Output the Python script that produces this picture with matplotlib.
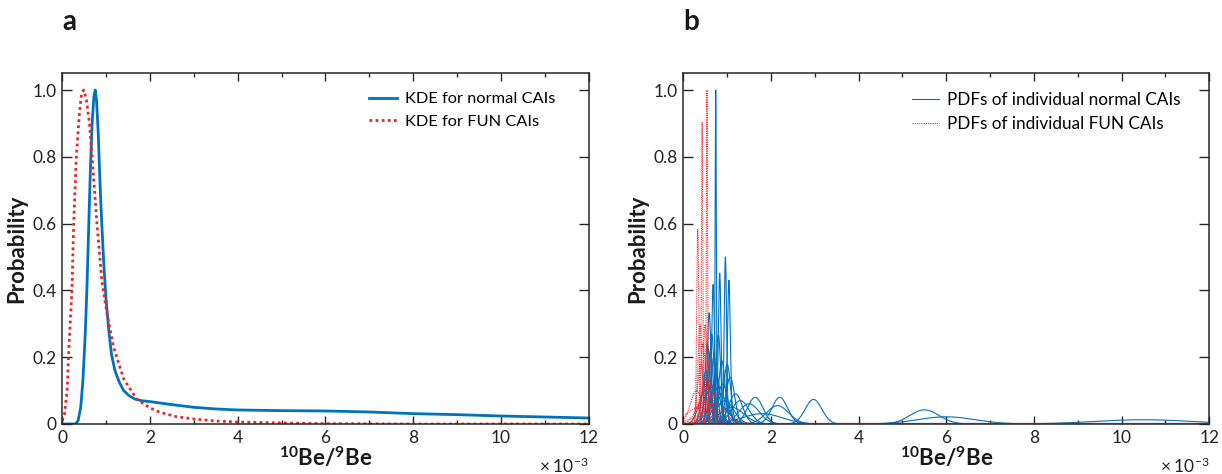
import numpy as np
import matplotlib
matplotlib.use("Agg")
import matplotlib.pyplot as plt

FONT = "Lato"
plt.rcParams['font.family'] = [FONT, 'DejaVu Sans']
plt.rcParams['mathtext.fontset'] = 'custom'
plt.rcParams['mathtext.rm'] = FONT
plt.rcParams['mathtext.bf'] = FONT + ':bold'
plt.rcParams['mathtext.it'] = FONT + ':italic'

BLUE = '#0072BD'
RED = '#E8262A'
AXC = '#262626'

# ---------------- data (x in units of 1e-3) ----------------
# Panel a: KDE curves
kde_normal_x = [0, 0.30, 0.36, 0.42, 0.47, 0.52, 0.56, 0.60, 0.64, 0.68, 0.72, 0.75,
                0.78, 0.82, 0.86, 0.90, 0.95, 1.00, 1.06, 1.12, 1.20, 1.30, 1.40, 1.52,
                1.65, 1.80, 2.0, 2.5, 3.0, 3.5, 4.0, 5.0, 6.0, 7.0, 8.0, 9.0, 10.0, 11.0, 12.0]
kde_normal_y = [0, 0.0, 0.01, 0.05, 0.13, 0.26, 0.40, 0.58, 0.76, 0.90, 0.98, 1.00,
                0.97, 0.87, 0.72, 0.60, 0.47, 0.37, 0.28, 0.21, 0.16, 0.125, 0.10, 0.085,
                0.075, 0.070, 0.067, 0.058, 0.050, 0.045, 0.042, 0.040, 0.039, 0.036, 0.031,
                0.028, 0.024, 0.021, 0.018]

kde_fun_x = [0, 0.05, 0.11, 0.14, 0.18, 0.22, 0.26, 0.32, 0.39, 0.44, 0.49, 0.55, 0.62,
             0.68, 0.79, 0.90, 1.02, 1.17, 1.40, 1.70, 2.0, 2.23, 2.6, 3.0, 3.5, 4.0, 5.0,
             6.0, 8.0, 12.0]
kde_fun_y = [0.01, 0.03, 0.10, 0.20, 0.30, 0.40, 0.60, 0.80, 0.93, 0.99, 1.00, 0.97, 0.90,
             0.80, 0.60, 0.43, 0.33, 0.23, 0.135, 0.074, 0.048, 0.035, 0.022, 0.015, 0.009,
             0.006, 0.003, 0.001, 0.0, 0.0]

# Panel b: individual CAIs, 10Be/9Be value and 1-sigma uncertainty (units 1e-3)
normal_mean = [0.74, 0.96, 1.04, 0.83, 0.68, 0.59, 0.65, 0.80, 0.55, 0.62, 0.70, 0.88,
               1.00, 0.52, 0.75, 1.07, 0.60, 0.90, 0.72, 1.19, 0.85, 1.30, 0.95, 1.64,
               1.50, 2.20, 2.15, 2.97, 1.10, 0.78, 5.50, 6.00, 10.5, 1.80, 0.50]
normal_sigma = [0.014, 0.028, 0.0325, 0.031, 0.0335, 0.042, 0.052, 0.052, 0.058, 0.064,
                0.070, 0.074, 0.078, 0.088, 0.093, 0.10, 0.108, 0.117, 0.127, 0.155,
                0.155, 0.20, 0.20, 0.175, 0.23, 0.175, 0.255, 0.19, 0.28, 0.23, 0.33,
                0.65, 1.1, 0.45, 0.14]

fun_mean = [0.54, 0.43, 0.33, 0.38, 0.50, 0.45, 0.58, 0.40, 0.52, 0.62, 0.30, 0.48,
            0.70, 0.36, 0.65]
fun_sigma = [0.014, 0.0155, 0.024, 0.047, 0.047, 0.058, 0.07, 0.078, 0.10, 0.117,
             0.14, 0.175, 0.23, 0.28, 0.35]

x_ticks = [0, 2, 4, 6, 8, 10, 12]
y_ticks = [0, 0.2, 0.4, 0.6, 0.8, 1.0]
y_ticklabels = ['0', '0.2', '0.4', '0.6', '0.8', '1.0']

# ---------------- figure ----------------
fig = plt.figure(figsize=(12.22, 4.74), dpi=100)
W, H = 1222, 474
def rect(l, t, r, b):
    return [l / W, 1 - b / H, (r - l) / W, (b - t) / H]

axa = fig.add_axes(rect(62.3, 73.3, 588.5, 424))
axb = fig.add_axes(rect(683.3, 73.3, 1209.3, 424))

def style(ax):
    ax.set_xlim(0, 12)
    ax.set_ylim(0, 1.05)
    ax.set_xticks(x_ticks)
    ax.set_xticks(np.arange(1, 12, 2), minor=True)
    ax.set_yticks(y_ticks)
    ax.set_yticklabels(y_ticklabels)
    ax.tick_params(which='both', direction='in', top=True, right=True,
                   colors=AXC, labelcolor='#222222', labelsize=12.5, width=1.0)
    ax.tick_params(axis='x', which='major', length=6, pad=4)
    ax.tick_params(axis='x', which='minor', length=3)
    ax.tick_params(axis='y', which='major', length=7, pad=4)
    for s in ax.spines.values():
        s.set_color(AXC)
        s.set_linewidth(1.1)
    ax.set_xlabel(r'${}^{\mathbf{10}}\mathbf{Be/}{}^{\mathbf{9}}\mathbf{Be}$',
                  fontsize=16, labelpad=0, color='#1a1a1a')
    ax.set_ylabel('Probability', fontsize=16, fontweight='bold', labelpad=4,
                  color='#1a1a1a')
    ax.text(1.0, -0.12, r'$\times\;10^{-3}$', transform=ax.transAxes,
            ha='right', va='center', fontsize=12.5, color='#222222')

# Panel a
axa.plot(kde_normal_x, kde_normal_y, color=BLUE, lw=2.0,
         label='KDE for normal CAIs', solid_joinstyle='round')
axa.plot(kde_fun_x, kde_fun_y, color=RED, lw=2.0, dashes=(1.0, 1.2),
         label='KDE for FUN CAIs')
style(axa)
axa.legend(loc='upper right', bbox_to_anchor=(0.955, 0.975), frameon=False,
           fontsize=11.8, handlelength=1.75, handletextpad=0.45, labelspacing=0.5,
           borderaxespad=0.2)

# Panel b
xg = np.linspace(0, 12.5, 25001)

def pdfs(means, sigmas):
    curves = [np.exp(-0.5 * ((xg - m) / s) ** 2) / (s * np.sqrt(2 * np.pi))
              for m, s in zip(means, sigmas)]
    peak = max(c.max() for c in curves)
    return [c / peak for c in curves]

for i, c in enumerate(pdfs(normal_mean, normal_sigma)):
    axb.plot(xg, c, color=BLUE, lw=0.8, label='PDFs of individual normal CAIs' if i == 0 else None)
for i, c in enumerate(pdfs(fun_mean, fun_sigma)):
    axb.plot(xg, c, color=RED, lw=0.8, dashes=(1.0, 1.0),
             label='PDFs of individual FUN CAIs' if i == 0 else None)
axb.axhline(0, color='#8B1F1F', lw=1.6, zorder=3)
style(axb)
axb.legend(loc='upper right', bbox_to_anchor=(0.965, 0.975), frameon=False,
           fontsize=12.3, handlelength=1.6, handletextpad=0.45, labelspacing=0.45,
           borderaxespad=0.2)

fig.text(62 / W, 1 - 22 / H, 'a', fontsize=20, fontweight='bold', ha='left', va='center',
         color='#1a1a1a')
fig.text(683 / W, 1 - 22 / H, 'b', fontsize=20, fontweight='bold', ha='left', va='center',
         color='#1a1a1a')

fig.savefig('out.png', dpi=100)
